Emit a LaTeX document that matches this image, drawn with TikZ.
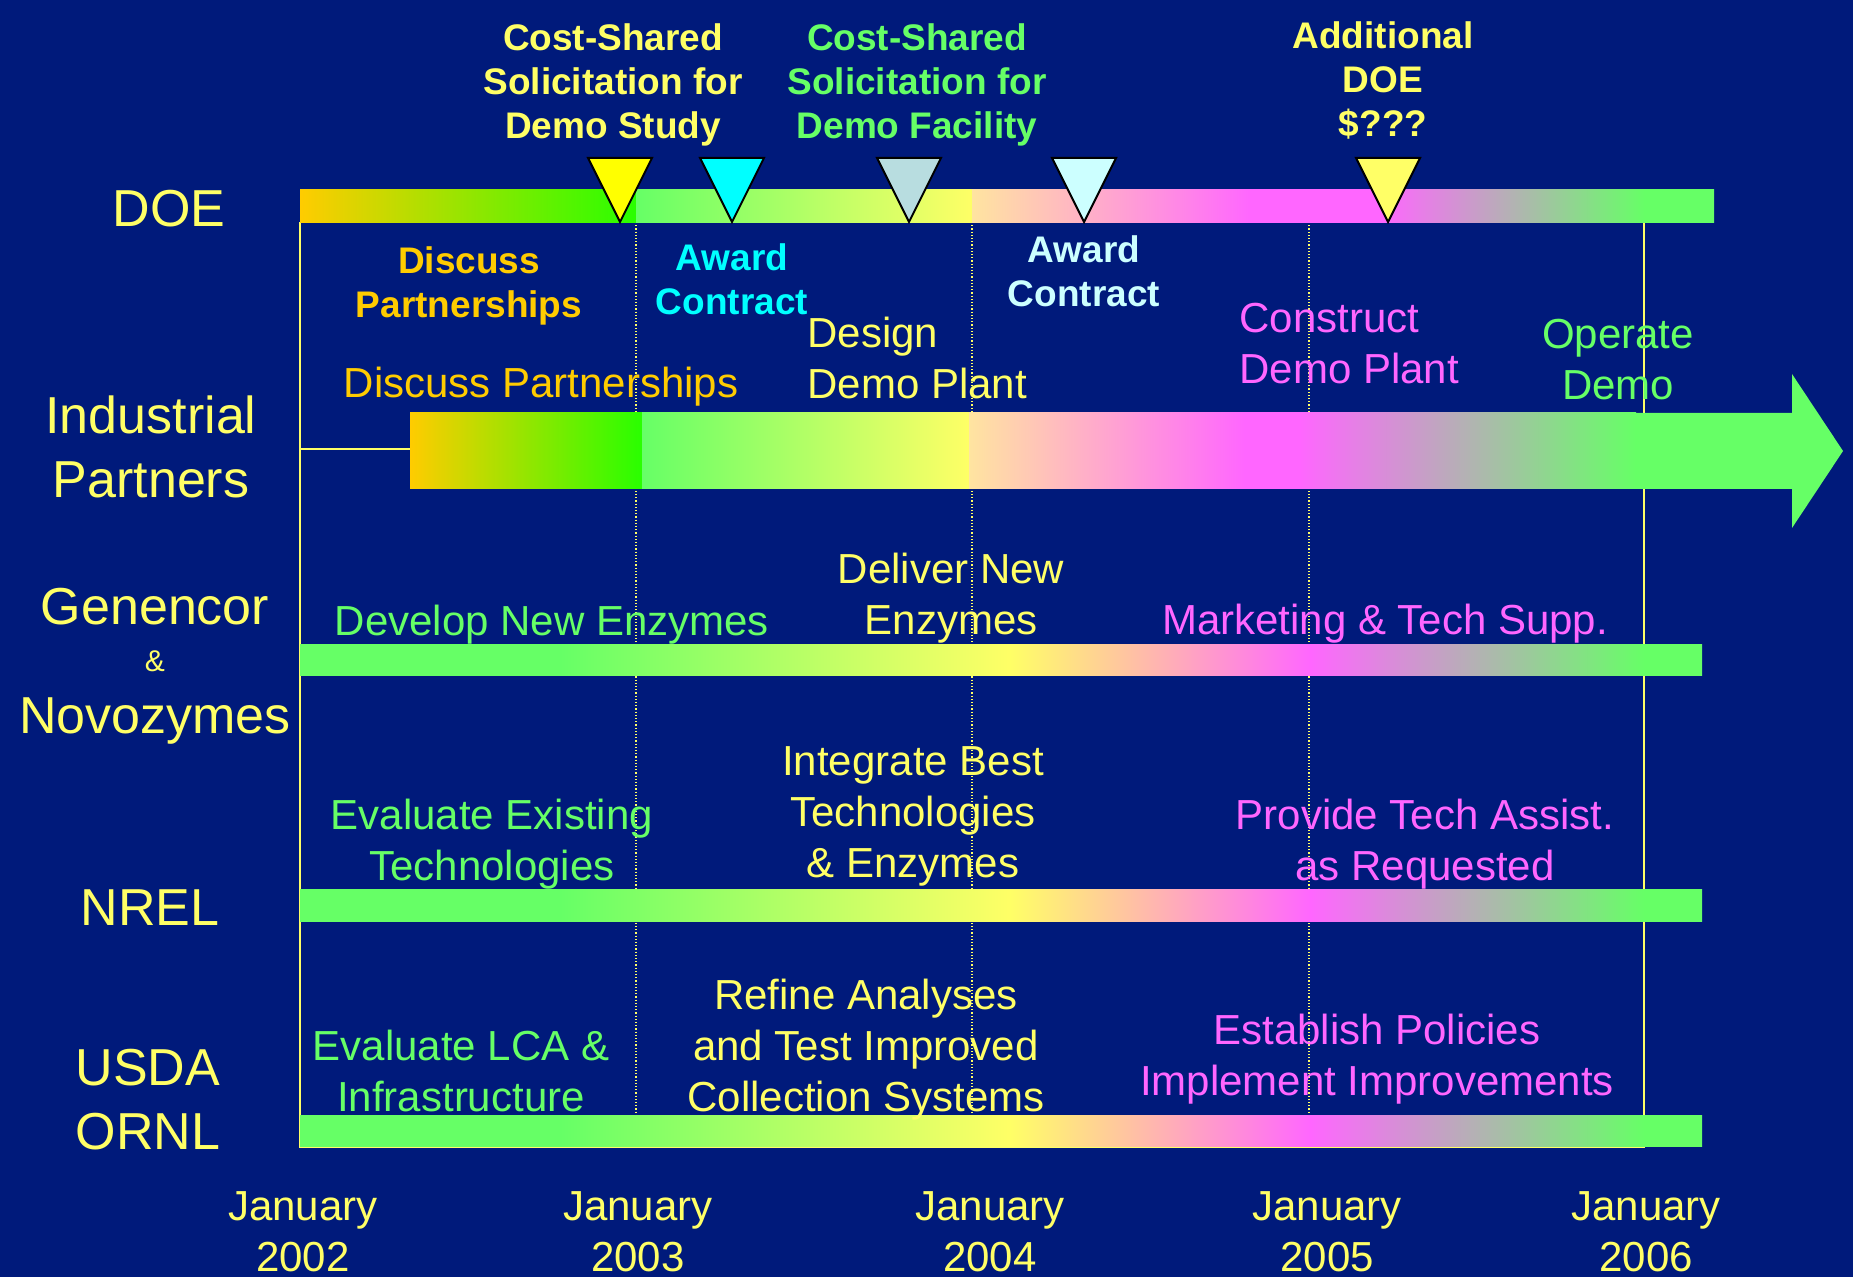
\documentclass[tikz,border=0pt]{standalone}
\usepackage{fontspec}
\setmainfont{Liberation Sans}
\usetikzlibrary{calc}

\definecolor{navy}{RGB}{0,26,123}
\definecolor{lgreen}{RGB}{102,255,102}
\definecolor{bgreen}{RGB}{40,255,0}
\definecolor{lyellow}{RGB}{255,255,102}
\definecolor{yel}{RGB}{255,255,0}
\definecolor{orng}{RGB}{255,204,0}
\definecolor{peach}{RGB}{255,228,160}
\definecolor{lpink}{RGB}{255,102,255}
\definecolor{tcyan}{RGB}{0,255,255}
\definecolor{pcyan}{RGB}{204,255,255}
\definecolor{gblue}{RGB}{184,221,224}

% one lane bar: green -> yellow -> pink -> green
\newcommand\lanebar[2]{%
  \shade[left color=lgreen, right color=lgreen] (300,#1) rectangle (561,#2);
  \shade[left color=lgreen, right color=lyellow] (560,#1) rectangle (1011,#2);
  \shade[left color=lyellow, right color=lpink] (1010,#1) rectangle (1311,#2);
  \shade[left color=lpink, right color=lgreen] (1310,#1) rectangle (1645,#2);
  \shade[left color=lgreen, right color=lgreen] (1644,#1) rectangle (1702,#2);}

\begin{document}
\begin{tikzpicture}[x=0.5pt,y=-0.5pt,
  big/.style={font=\fontsize{26}{32}\selectfont, text=lyellow, align=center, inner sep=0pt},
  lab/.style={font=\fontsize{21}{25.5}\selectfont, align=center, inner sep=0pt},
  blab/.style={font=\bfseries\fontsize{18.5}{22}\selectfont, align=center, inner sep=0pt},
  frame/.style={draw=lyellow, line width=1pt},
  flag/.style={draw=black, line width=1pt, line join=miter}]

  \fill[navy] (0,0) rectangle (1853,1277);
  \useasboundingbox (0,0) rectangle (1853,1277);

  \coordinate (tl) at (300,222);
  \coordinate (tr) at (1644,222);
  \coordinate (bl) at (300,1147);
  \coordinate (br) at (1644,1147);
  \coordinate (ipin) at (410,449);

  \draw[frame] (tl) -- (bl) -- (br) -- (tr);
  \foreach \x in {636,972,1309}
    \draw[lyellow, line width=0.6pt, densely dotted] (\x,222) -- (\x,1115);
  \draw[frame] (ipin -| tl) -- (ipin);

  % DOE bar
  \shade[left color=orng, right color=bgreen] (300,190) rectangle (637,223);
  \shade[left color=lgreen, right color=lyellow] (636,190) rectangle (973,223);
  \shade[left color=peach, right color=lpink] (972,190) rectangle (1251,223);
  \shade[left color=lpink, right color=lpink] (1250,190) rectangle (1381,223);
  \shade[left color=lpink, right color=lgreen] (1380,190) rectangle (1645,223);
  \shade[left color=lgreen, right color=lgreen] (1644,190) rectangle (1714,223);

  % industrial arrow
  \shade[left color=orng, right color=bgreen] (ipin |- 0,413) rectangle (643,489);
  \shade[left color=lgreen, right color=lyellow] (642,413) rectangle (970,489);
  \shade[left color=peach, right color=lpink] (969,413) rectangle (1245,489);
  \shade[left color=lpink, right color=lpink] (1244,413) rectangle (1300,489);
  \shade[left color=lpink, right color=lgreen] (1299,413) rectangle (1636,489);
  \shade[left color=lgreen, right color=lgreen] (1635,413) -- (1792,413) -- (1792,374)
    -- (1843,451) -- (1792,528) -- (1792,489) -- (1635,489) -- cycle;

  \lanebar{645}{676}
  \lanebar{889}{921}
  \lanebar{1115}{1146}

  \foreach \x/\c in {620/yel, 732/tcyan, 909/gblue, 1084/pcyan, 1388/lyellow}
    \filldraw[fill=\c, flag] (\x-32,158) -- (\x+32,158) -- (\x,222) -- cycle;

  % row labels
  \node[big] (doe) at (169,209) {DOE};
  \node[big] (ind) at (151,447) {Industrial\\Partners};
  \node[big] (gen) at (155,607) {Genencor};
  \node[big, font=\fontsize{15}{18}\selectfont] (amp) at (155,661) {\&};
  \node[big] (novo) at (155,721) {Novozymes};
  \node[big] (nrel) at (150,908) {NREL};
  \node[big] (usda) at (148,1100) {USDA\\ORNL};

  \foreach \x [count=\i from 2] in {303,638,990,1327,1646}
    \node[lab, text=lyellow] (yr\i) at (\x,1232) {January\\200\i};

  % milestones
  \node[blab, text=lyellow] (solstudy) at (613,85) {Cost-Shared\\Solicitation for\\Demo Study};
  \node[blab, text=lgreen] (solfac) at (917,85) {Cost-Shared\\Solicitation for\\Demo Facility};
  \node[blab, text=lyellow] (adddoe) at (1383,80) {Additional\\DOE\\\$???};
  \node[blab, text=orng] (discb) at (469,286) {Discuss\\Partnerships};
  \node[blab, text=tcyan] (award1) at (732,279) {Award\\Contract};
  \node[blab, text=pcyan] (award2) at (1084,271) {Award\\Contract};

  % tasks
  \node[lab, text=orng] (disc) at (541,387) {Discuss Partnerships};
  \node[lab, text=lyellow, anchor=west, align=left] (design) at (807,358) {Design\\Demo Plant};
  \node[lab, text=lpink, anchor=west, align=left] (constr) at (1239,344) {Construct\\Demo Plant};
  \node[lab, text=lgreen] (operate) at (1618,360) {Operate\\Demo};
  \node[lab, text=lgreen] (develop) at (552,625) {Develop New Enzymes};
  \node[lab, text=lyellow] (deliver) at (951,598) {Deliver New\\Enzymes};
  \node[lab, text=lpink] (market) at (1385,624) {Marketing \& Tech Supp.};
  \node[lab, text=lgreen] (evalt) at (492,844) {Evaluate Existing\\Technologies};
  \node[lab, text=lyellow] (integ) at (913,816) {Integrate Best\\Technologies\\\& Enzymes};
  \node[lab, text=lpink] (assist) at (1425,844) {Provide Tech Assist.\\as Requested};
  \node[lab, text=lgreen] (evallca) at (461,1071) {Evaluate LCA \&\\Infrastructure};
  \node[lab, text=lyellow] (refine) at (866,1050) {Refine Analyses\\and Test Improved\\Collection Systems};
  \node[lab, text=lpink] (policy) at (1377,1059) {Establish Policies\\Implement Improvements};
\end{tikzpicture}
\end{document}
